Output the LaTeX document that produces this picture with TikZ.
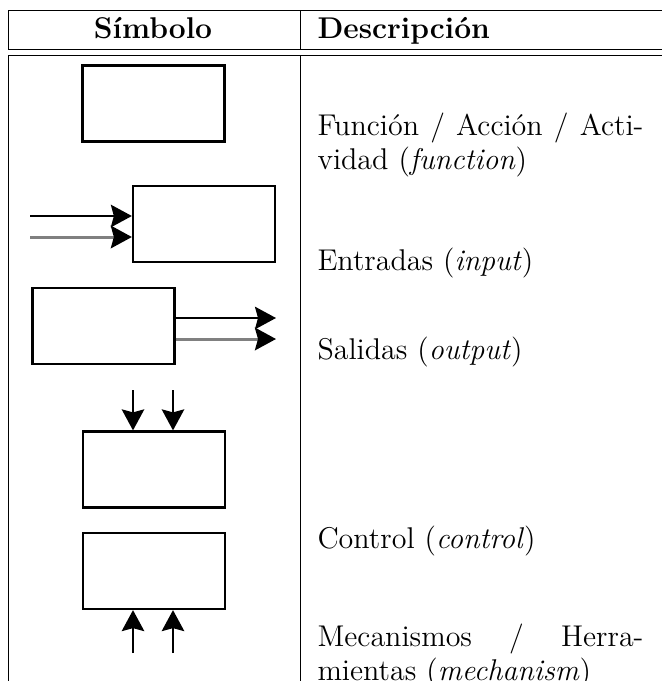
\documentclass[tikz,border=0pt]{standalone}
\usepackage{tikz}
\usetikzlibrary{arrows.meta}
\newlength{\descwidth}
\setlength{\descwidth}{130.4pt}

\begin{document}
\begin{tikzpicture}[x=0.4pt, y=-0.4pt, font=\fontsize{12}{13.6}\selectfont,
    symbox/.style={draw, line width=0.9pt, minimum width=56.8pt, minimum height=30.4pt, inner sep=0pt},
    flow/.style={-{Stealth[length=8.4pt, width=9pt, inset=1.2pt]}, line width=0.8pt},
    flowgray/.style={-{Stealth[length=8.4pt, width=9pt, inset=1.2pt, color=black]}, line width=1.2pt, draw=black!50},
    desc/.style={anchor=base west, text width=\descwidth, inner sep=0pt, align=left},
    tabrule/.style={line width=0.4pt}]
        % Fix the frame
        \useasboundingbox (0,0) rectangle (662,681);
        % Draw the table rules
        \draw[tabrule] (8,10) -- (662,10);
        \draw[tabrule] (8,49) -- (662,49);
        \draw[tabrule] (8,55) -- (662,55);
        \draw[tabrule] (8,10) -- (8,49) (300,10) -- (300,49);
        \draw[tabrule] (8,55) -- (8,681) (300,55) -- (300,681);
        % Draw the header
        \node[anchor=base, inner sep=0pt] (hsym) at (153,38) {\textbf{Símbolo}};
        \node[anchor=base west, inner sep=0pt] (hdesc) at (317,38) {\textbf{Descripción}};
        % Draw the function box
        \node[symbox] (funbox) at (153.5,103.5) {};
        \node[desc] (dfun) at (317,135) {\hbox to \descwidth{Función\hfill/\hfill Acción\hfill/\hfill Acti-}\\vidad (\textit{function})};
        % Draw the input box and arrows
        \node[symbox] (inbox) at (204,224) {};
        \coordinate (in1) at (30,216);
        \coordinate (in2) at (30,237);
        \draw[flow] (in1) -- (inbox.west |- in1);
        \draw[flowgray] (in2) -- (inbox.west |- in2);
        \node[desc] (din) at (317,270) {Entradas (\textit{input})};
        % Draw the output box and arrows
        \node[symbox] (outbox) at (103.5,326) {};
        \coordinate (out1) at (276,318);
        \coordinate (out2) at (276,339);
        \draw[flow] (outbox.east |- out1) -- (out1);
        \draw[flowgray] (outbox.east |- out2) -- (out2);
        \node[desc] (dout) at (317,359) {Salidas (\textit{output})};
        % Draw the control box and arrows
        \node[symbox] (ctlbox) at (154,469.5) {};
        \foreach \x/\n in {133/1,173/2}{
            \coordinate (ctl\n) at (\x,390);
            \draw[flow] (ctl\n) -- (ctlbox.north -| ctl\n);
        }
        \node[desc] (dctl) at (317,548) {Control (\textit{control})};
        % Draw the mechanism box and arrows
        \node[symbox] (mecbox) at (154,571) {};
        \foreach \x/\n in {133/1,173/2}{
            \coordinate (mec\n) at (\x,653);
            \draw[flow] (mec\n) -- (mecbox.south -| mec\n);
        }
        \node[desc] (dmec) at (317,646) {\hbox to \descwidth{Mecanismos\hfill/\hfill Herra-}\\mientas (\textit{mechanism})};
    \end{tikzpicture}
\end{document}
